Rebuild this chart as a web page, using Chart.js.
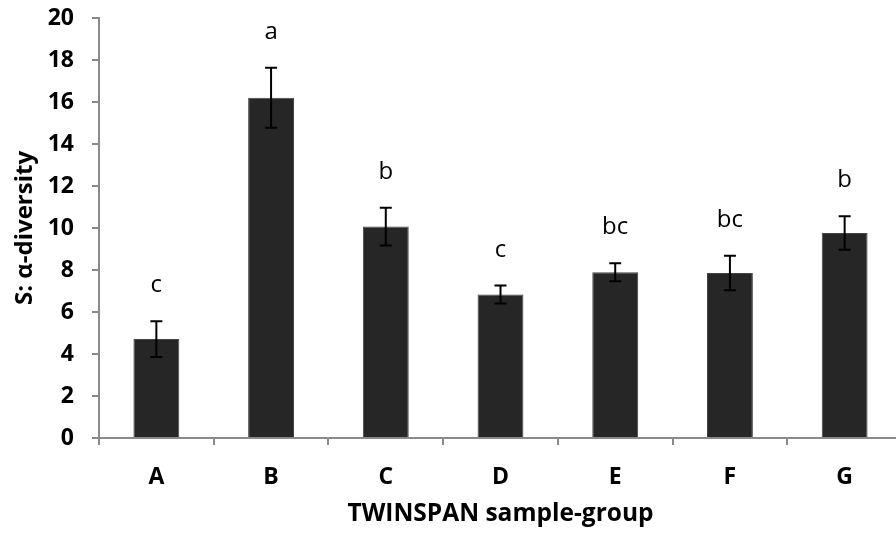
<!DOCTYPE html>
<html>
<head>
<meta charset="utf-8">
<script src="https://cdn.jsdelivr.net/npm/chart.js@4"></script>
<style>
  html, body { margin: 0; padding: 0; background: #fff; overflow: hidden; }
  #wrap { width: 902px; height: 537px; }
</style>
</head>
<body>
<div id="wrap"><canvas id="chart"></canvas></div>
<script>
const groups = ["A", "B", "C", "D", "E", "F", "G"];
const meanS = [4.71, 16.2, 10.07, 6.83, 7.89, 7.86, 9.76];
const errS = [0.85, 1.43, 0.9, 0.43, 0.43, 0.82, 0.8];
const letters = ["c", "a", "b", "c", "bc", "bc", "b"];
const yTicks = [0, 2, 4, 6, 8, 10, 12, 14, 16, 18, 20];

const FONT = "'Open Sans', 'DejaVu Sans', sans-serif";
const AXIS_GREY = "#8a8a8a";

// error bars + significance letters drawn on top of the bars
const errorBarPlugin = {
  id: "errorBars",
  afterDatasetsDraw(chart) {
    const ctx = chart.ctx;
    const meta = chart.getDatasetMeta(0);
    const y = chart.scales.y;
    ctx.save();
    meta.data.forEach((bar, i) => {
      const top = y.getPixelForValue(meanS[i] + errS[i]);
      const bot = y.getPixelForValue(meanS[i] - errS[i]);
      ctx.strokeStyle = "#000";
      ctx.lineWidth = 2;
      ctx.beginPath();
      ctx.moveTo(bar.x, top); ctx.lineTo(bar.x, bot);
      ctx.moveTo(bar.x - 6, top); ctx.lineTo(bar.x + 6, top);
      ctx.moveTo(bar.x - 6, bot); ctx.lineTo(bar.x + 6, bot);
      ctx.stroke();

      ctx.fillStyle = "#000";
      ctx.font = "24px " + FONT;
      ctx.textAlign = "center";
      ctx.textBaseline = "alphabetic";
      ctx.fillText(letters[i], bar.x, top - 29);
    });
    ctx.restore();
  }
};

new Chart(document.getElementById("chart"), {
  type: "bar",
  data: {
    labels: groups,
    datasets: [{
      data: meanS,
      backgroundColor: "#262626",
      borderColor: "#444444",
      borderWidth: 1,
      barPercentage: 0.4,
      categoryPercentage: 1.0
    }]
  },
  options: {
    responsive: true,
    maintainAspectRatio: false,
    animation: false,
    layout: { padding: { top: 18, right: 0, left: 0, bottom: 0 } },
    plugins: {
      legend: { display: false },
      tooltip: { enabled: false }
    },
    scales: {
      x: {
        afterFit: (s) => { s.height = 99; s.paddingLeft = 0; s.paddingRight = 0; },
        grid: {
          display: true,
          drawOnChartArea: false,
          offset: true,
          color: AXIS_GREY,
          tickLength: 7,
          lineWidth: 2
        },
        border: { color: AXIS_GREY, width: 2 },
        ticks: {
          color: "#000",
          font: { family: FONT, size: 23, weight: "bold" },
          padding: 19
        },
        title: {
          display: true,
          text: "TWINSPAN sample-group",
          color: "#000",
          font: { family: FONT, size: 24.5, weight: "bold" },
          padding: { top: 0, bottom: 8 }
        }
      },
      y: {
        min: 0,
        max: 20,
        afterFit: (s) => { s.width = 99; s.paddingTop = 0; s.paddingBottom = 0; },
        afterBuildTicks: (s) => { s.ticks = yTicks.map(v => ({ value: v })); },
        grid: {
          display: true,
          drawOnChartArea: false,
          color: AXIS_GREY,
          tickLength: 7,
          lineWidth: 2
        },
        border: { color: AXIS_GREY, width: 2 },
        ticks: {
          color: "#000",
          font: { family: FONT, size: 23, weight: "bold" },
          padding: 18
        },
        title: {
          display: true,
          text: "S: α-diversity",
          color: "#000",
          font: { family: FONT, size: 24, weight: "bold" },
          padding: { top: 11, bottom: 0 }
        }
      }
    }
  },
  plugins: [errorBarPlugin]
});
</script>
</body>
</html>
